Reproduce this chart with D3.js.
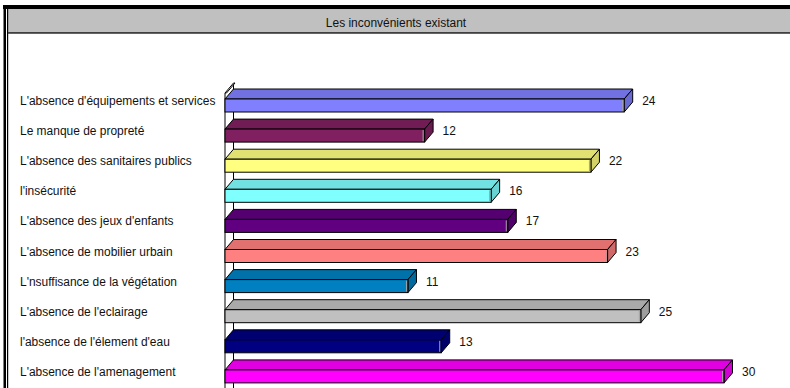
<!DOCTYPE html>
<html>
<head>
<meta charset="utf-8">
<script src="https://cdn.jsdelivr.net/npm/d3@7"></script>
<style>
  html, body { margin: 0; padding: 0; background: #fff; }
  svg { display: block; }
  text { font-family: Arial, "Liberation Sans", sans-serif; font-size: 13.3px; fill: #111; }
</style>
</head>
<body>
<svg id="chart" width="790" height="388"></svg>
<script>
const title = "Les inconvénients existant";
const categories = [
  "L'absence d'équipements et services",
  "Le manque de propreté",
  "L'absence des sanitaires publics",
  "l'insécurité",
  "L'absence des jeux d'enfants",
  "L'absence de mobilier urbain",
  "L'nsuffisance de la végétation",
  "L'absence de l'eclairage",
  "l'absence de l'élement d'eau",
  "L'absence de l'amenagement"
];
const values = [24, 12, 22, 16, 17, 23, 11, 25, 13, 30];
const colors = ["#8080ff", "#802060", "#ffff80", "#80ffff", "#600080",
                "#ff8080", "#0080c0", "#c0c0c0", "#000080", "#ff00ff"];
const xDomain = [0, 30];

const W = 790, H = 388;
const svg = d3.select("#chart");
const sx = 0.9;
const tf = (px, py) => `translate(${px},${py}) scale(${sx},1)`;

// frame
svg.append("rect").attr("x", 8).attr("y", 9).attr("width", W - 8).attr("height", 24).attr("fill", "#c0c0c0");
svg.append("rect").attr("x", 3).attr("y", 5).attr("width", W - 3).attr("height", 4).attr("fill", "#000");
svg.append("rect").attr("x", 3.5).attr("y", 5).attr("width", 2.5).attr("height", H).attr("fill", "#000");
svg.append("rect").attr("x", 7).attr("y", 5).attr("width", 1.2).attr("height", H).attr("fill", "#000");
svg.append("rect").attr("x", 8).attr("y", 32).attr("width", W - 8).attr("height", 1.8).attr("fill", "#404040");
svg.append("text").attr("transform", tf(396, 27)).attr("text-anchor", "middle").text(title);

const x = d3.scaleLinear().domain(xDomain).range([225, 724]);
const y = d3.scaleBand().domain(categories).range([84, 385]);
const dx = 8.5, dy = 10, fh = 13;
const x0 = x(0);

// back wall
const g = svg.append("g");
g.append("line").attr("x1", x0 + dx).attr("x2", x0 + dx).attr("y1", 83).attr("y2", H)
  .attr("stroke", "#000").attr("stroke-width", 1);
g.append("line").attr("x1", x0).attr("x2", x0).attr("y1", 93).attr("y2", H)
  .attr("stroke", "#000").attr("stroke-width", 1);
g.append("polygon")
  .attr("points", [[x0, 93], [x0 + dx, 83], [x0 + dx + 1.5, 83], [x0 + 1.5, 93]].map(p => p.join(",")).join(" "))
  .attr("fill", "#fff").attr("stroke", "#000").attr("stroke-width", 1);

const data = categories.map((c, i) => ({ c, v: values[i], col: colors[i] }));

const bars = g.selectAll("g.bar").data(data).join("g").attr("class", "bar");
bars.each(function (d) {
  const b = d3.select(this);
  const t = y(d.c) + 15;
  const xe = x(d.v);
  const base = d3.color(d.col);
  const top = base.darker(0.35);
  const side = base.darker(0.55);
  b.append("polygon")
    .attr("points", [[x0, t], [x0 + dx, t - dy], [xe + dx, t - dy], [xe, t]].map(p => p.join(",")).join(" "))
    .attr("fill", top).attr("stroke", "#000").attr("stroke-width", 1).attr("stroke-linejoin", "round");
  b.append("polygon")
    .attr("points", [[xe, t], [xe + dx, t - dy], [xe + dx, t - dy + fh], [xe, t + fh]].map(p => p.join(",")).join(" "))
    .attr("fill", side).attr("stroke", "#000").attr("stroke-width", 1).attr("stroke-linejoin", "round");
  b.append("rect").attr("x", x0).attr("y", t).attr("width", xe - x0).attr("height", fh)
    .attr("fill", base).attr("stroke", "#000").attr("stroke-width", 1);
  b.append("line").attr("x1", xe - 1.5).attr("x2", xe - 1.5).attr("y1", t + 1).attr("y2", t + fh - 1)
    .attr("stroke", "#a0a0a0").attr("stroke-width", 1);
  b.append("text").attr("transform", tf(xe + 18, t + 6)).text(d.v);
});

// category labels
svg.append("g").selectAll("text").data(data).join("text")
  .attr("transform", d => tf(20, y(d.c) + 15 + 6)).text(d => d.c);
</script>
</body>
</html>
